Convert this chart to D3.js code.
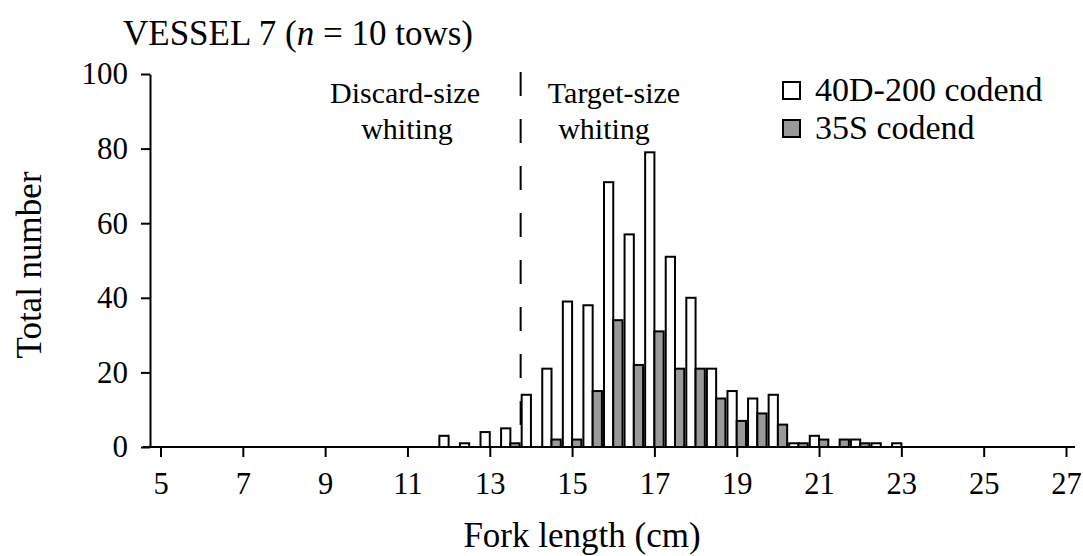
<!DOCTYPE html>
<html><head><meta charset="utf-8">
<script src="https://cdn.jsdelivr.net/npm/d3@7"></script>
<style>body{margin:0;background:#fff}svg{display:block}svg text{font-family:"Liberation Serif","Times New Roman",serif !important;fill:#000}</style>
</head><body>
<script>
const bins = [12,12.5,13,13.5,14,14.5,15,15.5,16,16.5,17,17.5,18,18.5,19,19.5,20,20.5,21,21.5,22,22.5,23];
const codend40D = [3,1,4,5,14,21,39,38,71,57,79,51,40,21,15,13,14,1,3,0,2,1,1];
const codend35S = [0,0,0,1,0,2,2,15,34,22,31,21,21,13,7,9,6,1,2,2,1,0,0];
const xTicks = [5,7,9,11,13,15,17,19,21,23,25,27];
const yTicks = [0,20,40,60,80,100];
const seriesNames = ["40D-200 codend","35S codend"];
const seriesFill = ["#ffffff","#999999"];
const cutoff = 13.75;

const FONT='"Liberation Serif","Times New Roman",serif';
const W=1083,H=556;
const svg=d3.select("body").append("svg").attr("width",W).attr("height",H).style("font-family",FONT);
const x=d3.scaleLinear().domain([5,27]).range([160.5,1066]);
const y=d3.scaleLinear().domain([0,100]).range([447,74]);
const bw=0.225;

// bars
const series=[codend40D,codend35S];
series.forEach((vals,si)=>{
  svg.append("g").selectAll("rect").data(bins.map((b,i)=>({b,v:vals[i]})).filter(d=>d.v>0))
    .join("rect")
    .attr("x",d=>si===0?x(d.b-bw):x(d.b))
    .attr("width",x(bw)-x(0))
    .attr("y",d=>y(d.v))
    .attr("height",d=>y(0)-y(d.v))
    .attr("fill",seriesFill[si]).attr("stroke","#000").attr("stroke-width",2);
});

// dashed cutoff line
svg.append("line").attr("x1",x(cutoff)).attr("x2",x(cutoff)).attr("y1",y(100)-2).attr("y2",y(0))
  .attr("stroke","#000").attr("stroke-width",2).attr("stroke-dasharray","24,23");

// axes
const gx=svg.append("g").attr("transform",`translate(0,${y(0)})`)
  .call(d3.axisBottom(x).tickValues(xTicks).tickSize(10).tickPadding(15).tickSizeOuter(0));
gx.attr("font-family",null);
gx.select(".domain").attr("d",`M143,0H1075`).attr("stroke-width",2);
gx.selectAll(".tick line").attr("stroke-width",2);
gx.selectAll("text").attr("font-size",30.5).style("font-family",FONT);

const gy=svg.append("g").attr("transform",`translate(150,0)`)
  .call(d3.axisLeft(y).tickValues(yTicks).tickSize(9).tickPadding(13).tickSizeOuter(0));
gy.attr("font-family",null);
gy.select(".domain").attr("stroke-width",2);
gy.selectAll(".tick line").attr("stroke-width",2);
gy.selectAll("text").attr("font-size",31).style("font-family",FONT);

// titles
const title=svg.append("text").attr("x",123).attr("y",45).attr("font-size",35).style("font-family",FONT);
title.append("tspan").text("VESSEL 7 (");
title.append("tspan").attr("font-style","italic").text("n");
title.append("tspan").text(" = 10 tows)");

svg.append("text").attr("x",582).attr("y",547).attr("text-anchor","middle").attr("font-size",35).style("font-family",FONT).text("Fork length (cm)");
svg.append("text").attr("transform","translate(41,265) rotate(-90)").attr("text-anchor","middle").attr("font-size",35).style("font-family",FONT).text("Total number");

// annotations
const ann=[["Discard-size",405,103],["whiting",407,139],["Target-size",614,103],["whiting",604,139]];
ann.forEach(a=>svg.append("text").attr("x",a[1]).attr("y",a[2]).attr("text-anchor","middle").attr("font-size",30).style("font-family",FONT).text(a[0]));

// legend
const lg=svg.append("g");
seriesNames.forEach((n,i)=>{
  const yy=82+i*38;
  lg.append("rect").attr("x",783).attr("y",yy).attr("width",17).attr("height",17)
    .attr("fill",seriesFill[i]).attr("stroke","#000").attr("stroke-width",2);
  lg.append("text").attr("x",815).attr("y",yy+19).attr("font-size",34).style("font-family",FONT).text(n);
});
</script>
</body></html>
